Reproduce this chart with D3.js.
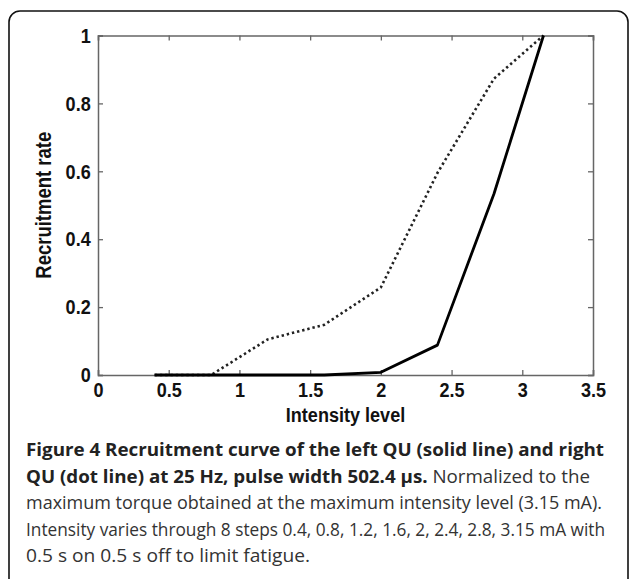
<!DOCTYPE html>
<html>
<head>
<meta charset="utf-8">
<script src="https://cdn.jsdelivr.net/npm/d3@7"></script>
<style>
  body { margin: 0; background: #fff; }
  svg { display: block; }
</style>
</head>
<body>
<div id="chart"></div>
<script>
// Intensity steps (mA)
const intensity = [0.4, 0.8, 1.2, 1.6, 2, 2.4, 2.8, 3.15];
// Left QU (solid line)
const leftQU = [0, 0, 0, 0, 0.008, 0.088, 0.534, 1];
// Right QU (dot line)
const rightQU = [0, 0, 0.105, 0.148, 0.258, 0.595, 0.873, 1];

const xTicks = [0, 0.5, 1, 1.5, 2, 2.5, 3, 3.5];
const yTicks = [0, 0.2, 0.4, 0.6, 0.8, 1];

const W = 629, H = 579;
const plot = { left: 98, right: 593, top: 35.5, bottom: 375 };

const svg = d3.select("#chart")
    .append("svg")
    .attr("width", W)
    .attr("height", H);

// cadre arrondi de la figure
svg.append("rect")
    .attr("x", 9).attr("y", 11)
    .attr("width", 619).attr("height", 620)
    .attr("rx", 11)
    .attr("fill", "none")
    .attr("stroke", "#111")
    .attr("stroke-width", 1.6);

const x = d3.scaleLinear().domain([0, 3.5]).range([plot.left, plot.right]);
const y = d3.scaleLinear().domain([0, 1]).range([plot.bottom, plot.top]);

const tickFont = "'Liberation Sans', Arial, sans-serif";
const narrow = 0.86; // police étroite simulée
const axisColor = "#666";

// axes (ticks vers l'intérieur, comme MATLAB)
const xAxis = d3.axisBottom(x).tickValues(xTicks).tickSize(-5).tickPadding(7)
    .tickFormat(d3.format("~g"));
const yAxis = d3.axisLeft(y).tickValues(yTicks).tickSize(-5).tickPadding(8.5)
    .tickFormat(d3.format("~g"));
const xTop = d3.axisTop(x).tickValues(xTicks).tickSize(-5).tickFormat("");
const yRight = d3.axisRight(y).tickValues(yTicks).tickSize(-5).tickFormat("");

function styleAxis(g) {
    g.select(".domain").attr("stroke", axisColor).attr("stroke-width", 1.5);
    g.selectAll(".tick line").attr("stroke", axisColor).attr("stroke-width", 1.3);
    g.selectAll(".tick text")
        .attr("fill", "#111")
        .attr("transform", `scale(${narrow},1)`)
        .style("font-family", tickFont)
        .style("font-weight", "bold")
        .style("font-size", "21px");
}

svg.append("g").attr("transform", `translate(0,${plot.bottom})`).call(xAxis).call(styleAxis);
svg.append("g").attr("transform", `translate(${plot.left},0)`).call(yAxis).call(styleAxis);
svg.append("g").attr("transform", `translate(0,${plot.top})`).call(xTop).call(styleAxis);
svg.append("g").attr("transform", `translate(${plot.right},0)`).call(yRight).call(styleAxis);

const line = d3.line().x(d => x(d[0])).y(d => y(d[1]));

// courbe droite (pointillés)
svg.append("path")
    .datum(intensity.map((v, i) => [v, rightQU[i]]))
    .attr("d", line)
    .attr("fill", "none")
    .attr("stroke", "#222")
    .attr("stroke-width", 2.6)
    .attr("stroke-dasharray", "2.4,2.9");

// courbe gauche (trait plein)
svg.append("path")
    .datum(intensity.map((v, i) => [v, leftQU[i]]))
    .attr("d", line)
    .attr("fill", "none")
    .attr("stroke", "#000")
    .attr("stroke-width", 2.8)
    .attr("stroke-linejoin", "round");

// titres des axes
svg.append("text")
    .attr("transform", `translate(${(plot.left + plot.right) / 2},422) scale(${narrow},1)`)
    .attr("text-anchor", "middle")
    .style("font-family", tickFont)
    .style("font-weight", "bold")
    .style("font-size", "21px")
    .attr("fill", "#111")
    .text("Intensity level");

svg.append("text")
    .attr("transform", `translate(50.5,${(plot.top + plot.bottom) / 2}) rotate(-90) scale(${narrow},1)`)
    .attr("text-anchor", "middle")
    .style("font-family", tickFont)
    .style("font-weight", "bold")
    .style("font-size", "21.5px")
    .attr("fill", "#111")
    .text("Recruitment rate");

// légende de la figure
const captionLines = [
    [{ t: "Figure 4 Recruitment curve of the left QU (solid line) and right", b: true }],
    [{ t: "QU (dot line) at 25 Hz, pulse width 502.4 μs.", b: true }, { t: " Normalized to the", b: false }],
    [{ t: "maximum torque obtained at the maximum intensity level (3.15 mA).", b: false }],
    [{ t: "Intensity varies through 8 steps 0.4, 0.8, 1.2, 1.6, 2, 2.4, 2.8, 3.15 mA with", b: false }],
    [{ t: "0.5 s on 0.5 s off to limit fatigue.", b: false }]
];
const captionWidths = [578, 564, 576, 579, 284];

captionLines.forEach((parts, i) => {
    const txt = svg.append("text")
        .attr("x", 26)
        .attr("y", 456 + i * 26.5)
        .attr("textLength", captionWidths[i])
        .attr("lengthAdjust", "spacingAndGlyphs")
        .style("font-family", "'Open Sans', 'Noto Sans', sans-serif")
        .style("font-size", "17.5px");
    parts.forEach(p => {
        txt.append("tspan")
            .attr("font-weight", p.b ? "bold" : "normal")
            .attr("fill", p.b ? "#222" : "#333")
            .text(p.t);
    });
});
</script>
</body>
</html>
